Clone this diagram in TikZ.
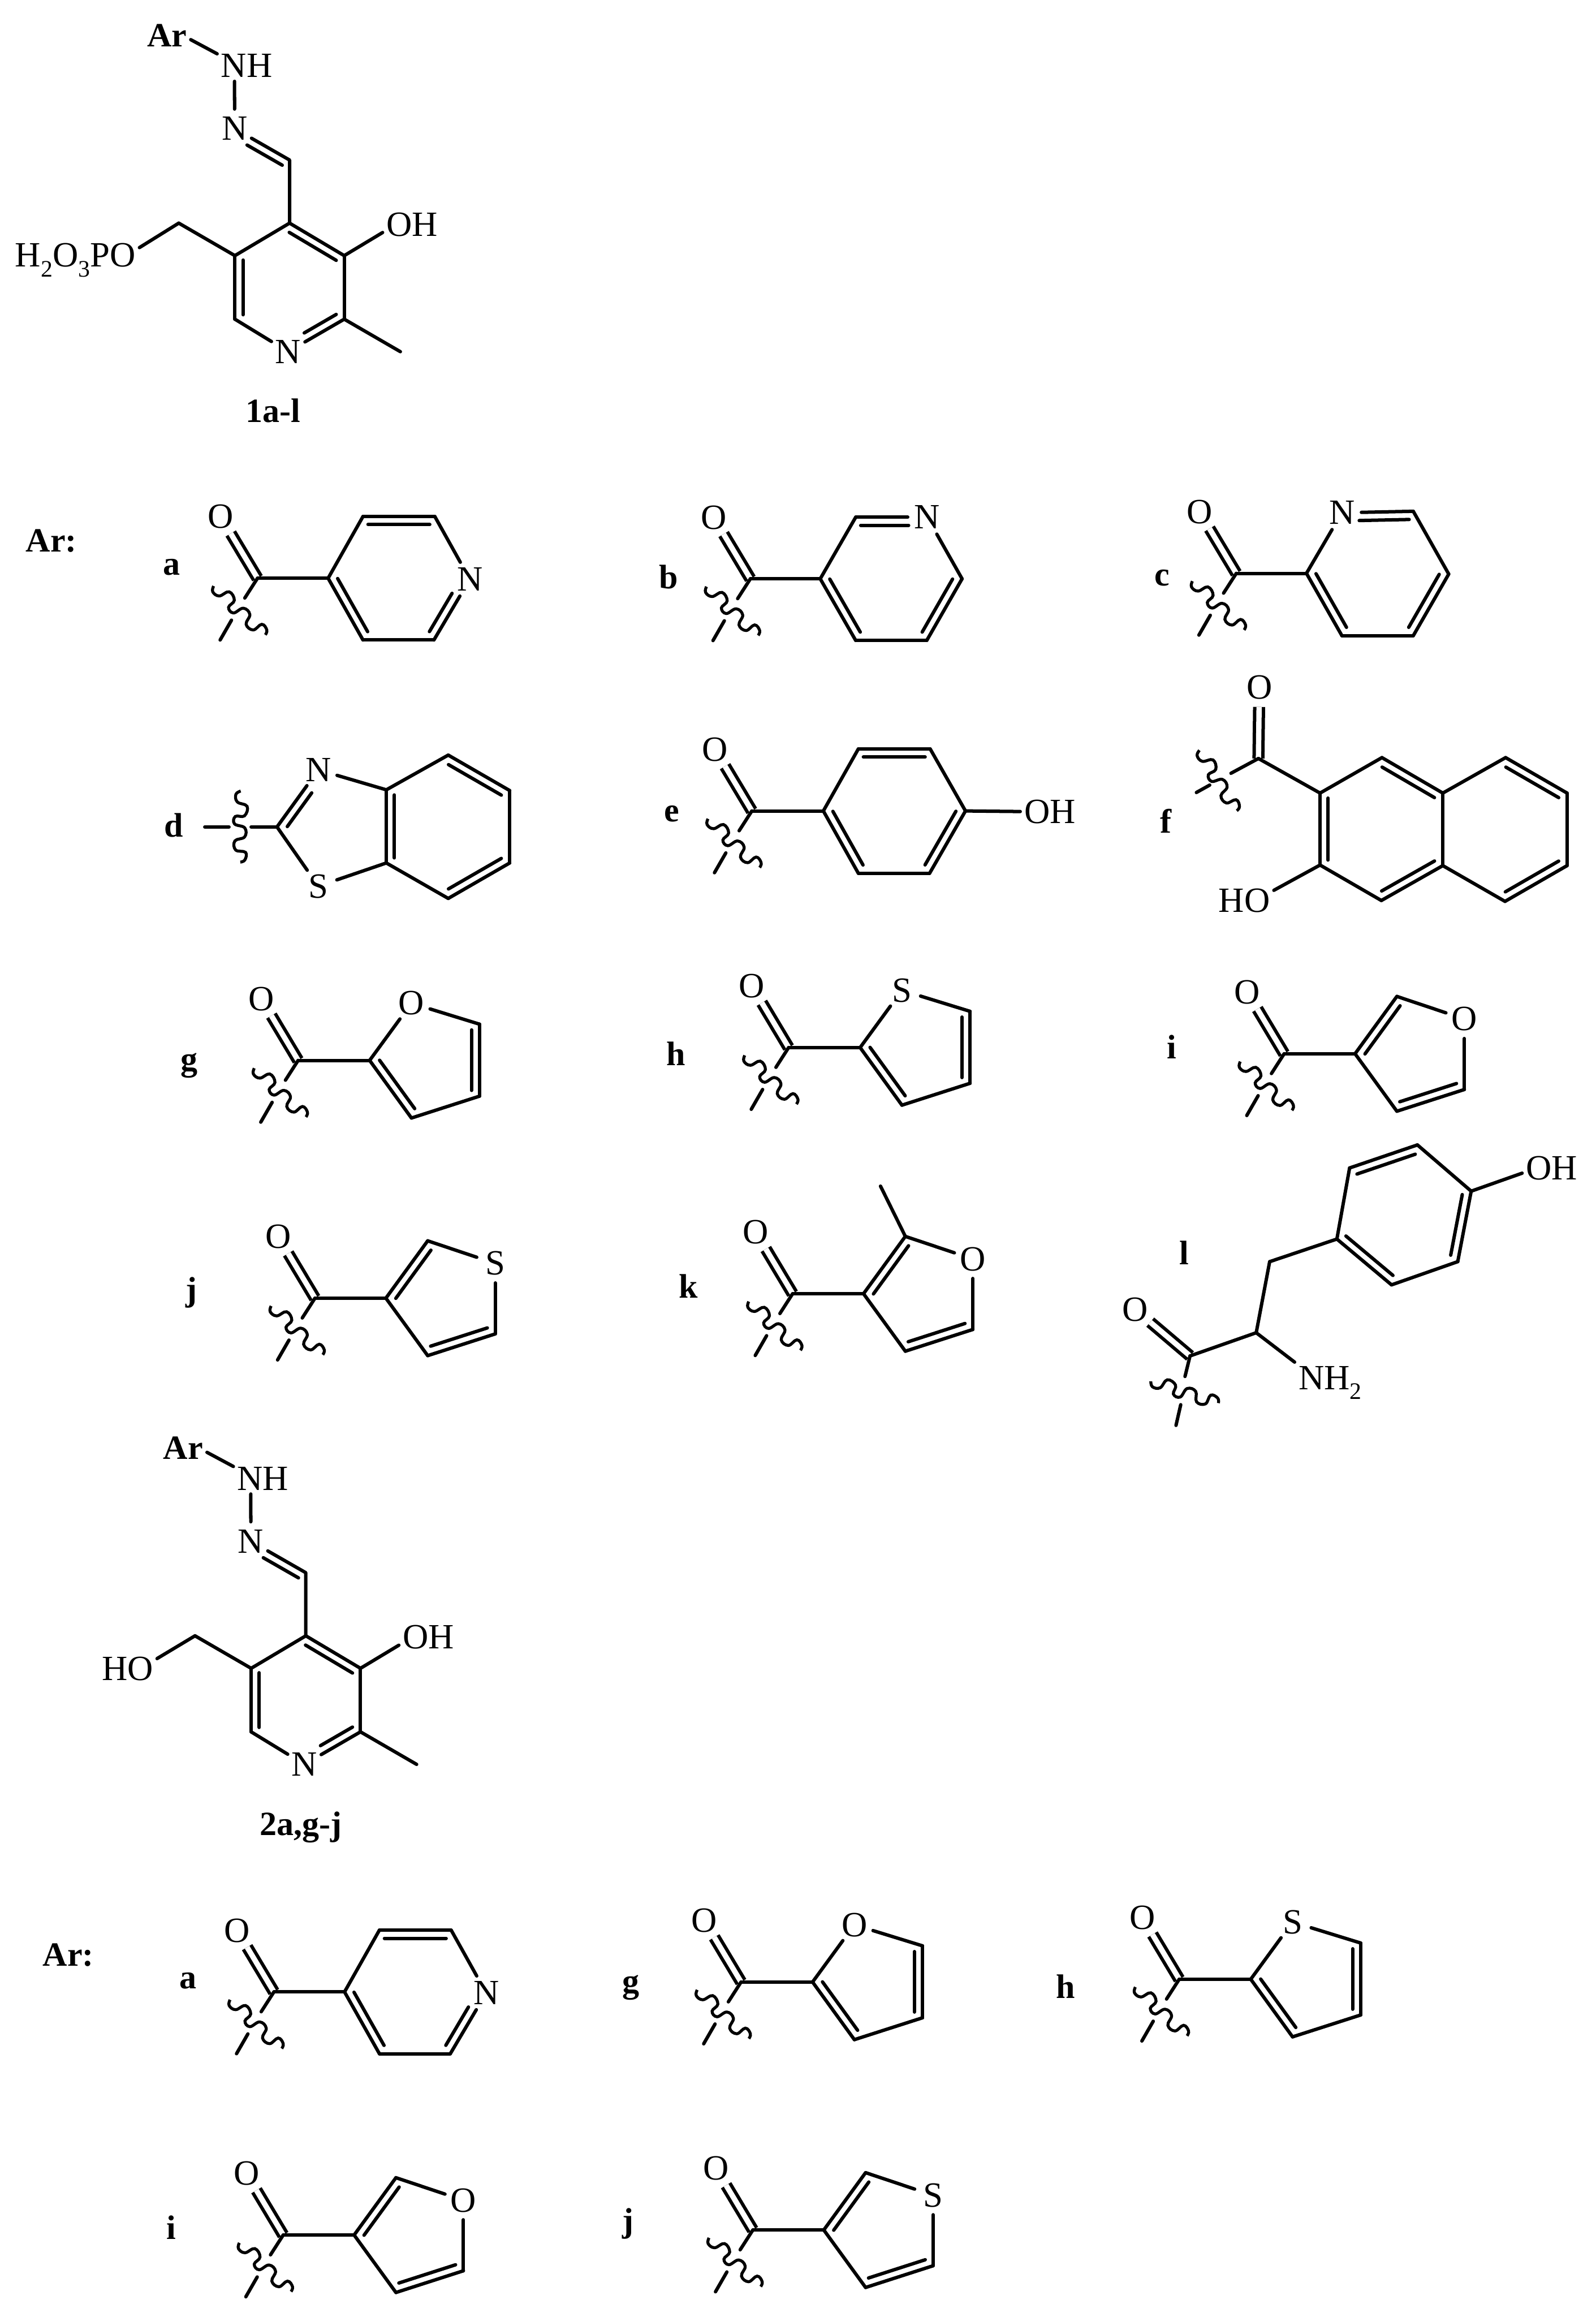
\documentclass[tikz,border=0pt]{standalone}
\usepackage{fontspec}
\setmainfont{Liberation Serif}
\usetikzlibrary{calc}
\newcommand{\atomfont}{\fontsize{24}{26}\selectfont}
\newcommand{\labfont}{\fontsize{23}{25}\selectfont\bfseries}
\newcommand{\subnum}[1]{\raisebox{-.28em}{\fontsize{16}{16}\selectfont #1}}
% second line of a double bond, on the right going from #1 to #2
\newcommand{\dblbond}[4]{\draw[bond] ($(#1)!#3!(#2)!-5.5pt!90:(#2)$) -- ($(#2)!#4!(#1)!5.5pt!90:(#1)$);}
\tikzset{
	bond/.style={line width=2.3pt, line cap=round, line join=round},
	cobond/.style={line width=2.3pt, double, double distance=3.6pt, line cap=butt},
	wave/.style={line width=2pt, line cap=butt},
	atom/.style={circle, inner sep=0pt, minimum size=26pt, font=\atomfont},
	grp/.style={inner sep=2.5pt, font=\atomfont},
	lab/.style={inner sep=0pt, font=\labfont},
	pics/wavy/.style={code={
		\draw[wave] plot[smooth, tension=.7] coordinates {(-17.8,-16.5) (-18.4,-12.6) (-14,-9.8) (-7.3,-12.6) (-3.8,-6.9) (-7.7,-2.1) (-4.4,1.7) (2.3,-1.5) (6.7,2.7) (4.2,9.4) (9,13.2) (14.8,9.4) (18.2,13.2) (17.2,16.5)};
	}},
	pics/acyl/.style={code={
		\coordinate (-c) at (0,0);
		\node[atom] (-o) at (-24.9,-41.6) {O};
		\coordinate (-p) at (-8.6,13.4);
		\coordinate (-q) at (-17.6,28.4);
		\coordinate (-r) at (-25.3,41.8);
		\draw[cobond] (-c) -- (-o);
		\draw[bond] (-c) -- (-p) (-q) -- (-r);
		\pic at (-11.9,21.8) {wavy};
	}},
	pics/pyrfour/.style={code={
		\pic at (0,0) {acyl};
		\coordinate (-cc) at (0,0);
		\coordinate (-a) at (47.8,0);
		\coordinate (-b) at (71.4,-41.8);
		\coordinate (-d) at (120,-41.8);
		\node[atom] (-n) at (143.7,.7) {N};
		\coordinate (-e) at (119.4,41.8);
		\coordinate (-f) at (71.4,41.8);
		\foreach \u/\v in {cc/a,a/b,b/d,d/n,n/e,e/f,f/a}
			\draw[bond] (-\u) -- (-\v);
		\dblbond{-b}{-d}{.07}{.07}
		\dblbond{-n}{-e}{.3}{.07}
		\dblbond{-f}{-a}{.07}{.07}
	}},
	pics/fivetwo/.style={code={
		\pic at (0,0) {acyl};
		\coordinate (-cc) at (0,0);
		\coordinate (-a) at (48.4,0);
		\node[atom] (-x) at (76.7,-38.7) {#1};
		\coordinate (-b) at (122.8,-24.5);
		\coordinate (-d) at (122.8,24.2);
		\coordinate (-e) at (76.7,39);
		\foreach \u/\v in {cc/a,a/x,x/b,b/d,d/e,e/a}
			\draw[bond] (-\u) -- (-\v);
		\dblbond{-b}{-d}{.08}{.08}
		\dblbond{-e}{-a}{.08}{.08}
	}},
	pics/fivethree/.style={code={
		\pic at (0,0) {acyl};
		\coordinate (-cc) at (0,0);
		\coordinate (-a) at (48,0);
		\coordinate (-b) at (76.3,-38.8);
		\node[atom] (-x) at (122,-23.5) {#1};
		\coordinate (-d) at (122,24.2);
		\coordinate (-e) at (76.3,38.9);
		\foreach \u/\v in {cc/a,a/b,b/x,x/d,d/e,e/a}
			\draw[bond] (-\u) -- (-\v);
		\dblbond{-a}{-b}{.08}{.08}
		\dblbond{-d}{-e}{.08}{.08}
	}},
	pics/hydrazone/.style={code={
		\node[grp, font=\labfont] (-ar) at (113,24) {Ar};
		\node[grp] (-nh) at (167,44.5) {NH};
		\node[atom] (-nn) at (158.8,87) {N};
		\coordinate (-ch) at (196,108.3);
		\coordinate (-a) at (196,151);
		\coordinate (-b) at (233,173);
		\coordinate (-d) at (233,216);
		\node[atom] (-n) at (195,238) {N};
		\coordinate (-e) at (159,216);
		\coordinate (-f) at (159,173);
		\coordinate (-me) at (271,238);
		\coordinate (-ct) at (121,151);
		\node[grp] (-oh) at (279,152) {OH};
		\draw[bond] (-ar.-10) -- (-nh.158);
		\draw[bond] (-nh.232) -- (-nn);
		\draw[bond] (-nn) -- (-ch) -- (-a);
		\foreach \u/\v in {a/b,b/d,d/n,n/e,e/f,f/a,d/me,f/ct}
			\draw[bond] (-\u) -- (-\v);
		\draw[bond] (-b) -- (-oh.195);
		\dblbond{-nn}{-ch}{.3}{.06}
		\dblbond{-a}{-b}{.07}{.07}
		\dblbond{-d}{-n}{.07}{.36}
		\dblbond{-e}{-f}{.07}{.07}
	}}
}
\begin{document}
\begin{tikzpicture}[x=1pt, y=-1pt]
\useasboundingbox (0,0) rectangle (1080,1568);
% the two parent structures
\pic (top) at (0,0) {hydrazone};
\node[grp, anchor=base] (phos) at (51,180.5) {H\subnum{2}O\subnum{3}PO};
\draw[bond] (top-ct) -- (phos.11);
\node[lab] (nameone) at (185,278) {1a-l};
\pic (low) at (11,956) {hydrazone};
\node[grp] (hydroxy) at (86.3,1129.3) {HO};
\draw[bond] (low-ct) -- (hydroxy.19);
\node[lab] (nametwo) at (203.5,1236.6) {2a,g-j};
\node[lab] (arone) at (34.8,366) {Ar:};
\node[lab] (artwo) at (46.2,1323) {Ar:};
% letters of the groups
\foreach \n/\t/\x/\y in {a/a/116/384, b/b/452.7/390.3, c/c/786.7/391, d/d/117.7/558.5, e/e/454.6/550.7, f/f/789/555.4, g/g/128.2/721, h/h/457.6/713, i/i/793/708.6, j/j/129.6/874.7, k/k/465.9/870.3, l/l/801.4/847.9, aa/a/127.4/1340.4, gg/g/427.2/1345, hh/h/721.1/1344.2, ii/i/116/1507.4, jj/j/425.3/1504.9}
	\node[lab] (lab\n) at (\x,\y) {\t};
% a, g-k and their copies below
\pic (a) at (174.3,391.3) {pyrfour};
\pic (g) at (201.8,717.6) {fivetwo=O};
\pic (h) at (533.8,708.9) {fivetwo=S};
\pic (i) at (869.2,713.1) {fivethree=O};
\pic (j) at (213.2,878.5) {fivethree=S};
\pic (k) at (536.5,875.5) {fivethree=O};
\coordinate (kme) at (596,802.7);
\draw[bond] (k-b) -- (kme);
\pic (aa) at (185.4,1348) {pyrfour};
\pic (gg) at (501.6,1341.3) {fivetwo=O};
\pic (hh) at (798.2,1339.4) {fivetwo=S};
\pic (ii) at (191.7,1512.5) {fivethree=O};
\pic (jj) at (509.6,1509.1) {fivethree=S};
% b
\pic (b) at (507.9,391.7) {acyl};
\coordinate (b1) at (555.2,391.7);
\coordinate (b2) at (579.2,350);
\node[atom] (b3) at (627.6,350) {N};
\coordinate (b4) at (651.2,391.7);
\coordinate (b5) at (627.3,433.4);
\coordinate (b6) at (579.2,433.4);
\foreach \u/\v in {b-c/b1,b1/b2,b2/b3,b3/b4,b4/b5,b5/b6,b6/b1}
	\draw[bond] (\u) -- (\v);
\dblbond{b2}{b3}{.07}{.26}
\dblbond{b4}{b5}{.07}{.07}
\dblbond{b6}{b1}{.07}{.07}
% c
\pic (c) at (836.8,388) {acyl};
\coordinate (c1) at (884.3,388);
\node[atom] (c2) at (908.3,347) {N};
\coordinate (c3) at (956.6,346);
\coordinate (c4) at (980.6,388.5);
\coordinate (c5) at (956.6,430.2);
\coordinate (c6) at (908.3,430.2);
\foreach \u/\v in {c-c/c1,c1/c2,c2/c3,c3/c4,c4/c5,c5/c6,c6/c1}
	\draw[bond] (\u) -- (\v);
\dblbond{c2}{c3}{.24}{.06}
\dblbond{c4}{c5}{.07}{.07}
\dblbond{c6}{c1}{.07}{.07}
% d
\coordinate (dtail) at (138.6,559.6);
\coordinate (dgap) at (155,559.6);
\coordinate (dcut) at (170,559.6);
\pic[rotate=-47] at (163,559.6) {wavy};
\coordinate (d1) at (187.5,559.6);
\node[atom] (d2) at (215.5,521) {N};
\coordinate (d3) at (261.5,534.5);
\coordinate (d4) at (303.4,511);
\coordinate (d5) at (345,535);
\coordinate (d6) at (345,584);
\coordinate (d7) at (303.4,608);
\coordinate (d8) at (261.5,584);
\node[atom] (d9) at (215.5,599.7) {S};
\draw[bond] (dtail) -- (dgap);
\foreach \u/\v in {dcut/d1,d1/d2,d2/d3,d3/d4,d4/d5,d5/d6,d6/d7,d7/d8,d8/d3,d8/d9,d9/d1}
	\draw[bond] (\u) -- (\v);
\dblbond{d1}{d2}{.09}{.32}
\dblbond{d8}{d3}{.07}{.07}
\dblbond{d4}{d5}{.07}{.07}
\dblbond{d6}{d7}{.07}{.07}
% e
\pic (e) at (508.9,548.8) {acyl};
\coordinate (e1) at (557.3,548.8);
\coordinate (e2) at (581,506.8);
\coordinate (e3) at (629.6,506.8);
\coordinate (e4) at (653.5,548.8);
\coordinate (e5) at (629.2,591);
\coordinate (e6) at (581,591);
\node[grp] (eoh) at (710.6,549.4) {OH};
\foreach \u/\v in {e-c/e1,e1/e2,e2/e3,e3/e4,e4/e5,e5/e6,e6/e1,e4/eoh}
	\draw[bond] (\u) -- (\v);
\dblbond{e2}{e3}{.07}{.07}
\dblbond{e4}{e5}{.07}{.07}
\dblbond{e6}{e1}{.07}{.07}
% f
\coordinate (fc) at (851.8,513.3);
\node[atom] (fo) at (852.4,465.2) {O};
\coordinate (fp) at (833.2,523.3);
\coordinate (fq) at (818.8,531.3);
\coordinate (fr) at (809.8,536.3);
\pic[rotate=-15] at (824.8,528.3) {wavy};
\coordinate (f1) at (893.5,536.7);
\coordinate (f2) at (935.4,512.7);
\coordinate (f3) at (976.6,536.7);
\coordinate (f4) at (1019.1,512.7);
\coordinate (f5) at (1060.7,536.7);
\coordinate (f6) at (1060.7,585.8);
\coordinate (f7) at (1018.7,610);
\coordinate (f8) at (976.6,585.8);
\coordinate (f9) at (935,609.4);
\coordinate (f10) at (893.5,585.4);
\node[grp] (fho) at (842.2,609.4) {HO};
\draw[cobond] (fc) -- (fo);
\foreach \u/\v in {fc/fp,fq/fr,fc/f1,f1/f2,f2/f3,f3/f4,f4/f5,f5/f6,f6/f7,f7/f8,f8/f3,f8/f9,f9/f10,f10/f1}
	\draw[bond] (\u) -- (\v);
\draw[bond] (f10) -- (fho.19);
\dblbond{f2}{f3}{.07}{.07}
\dblbond{f4}{f5}{.07}{.07}
\dblbond{f6}{f7}{.07}{.07}
\dblbond{f8}{f9}{.07}{.07}
\dblbond{f10}{f1}{.07}{.07}
% l
\coordinate (lc) at (805.5,917.6);
\node[atom] (lo) at (768.5,886.2) {O};
\coordinate (lp) at (802.1,931.5);
\coordinate (lq) at (799.2,950.6);
\coordinate (lr) at (796,964.6);
\pic[rotate=25.4] at (802.1,942) {wavy};
\coordinate (lca) at (850.3,901.9);
\coordinate (lch) at (859.4,853.8);
\coordinate (l1) at (904.9,838.5);
\coordinate (l2) at (913.5,790.4);
\coordinate (l3) at (959.4,774.8);
\coordinate (l4) at (995.8,806.1);
\coordinate (l5) at (986.7,853.8);
\coordinate (l6) at (941.9,869.5);
\node[grp] (loh) at (1050.3,790.4) {OH};
\node[grp, anchor=base] (lnh) at (900.3,940.2) {NH\subnum{2}};
\draw[cobond] (lc) -- (lo);
\foreach \u/\v in {lc/lp,lq/lr,lc/lca,lca/lch,lch/l1,l1/l2,l2/l3,l3/l4,l4/l5,l5/l6,l6/l1}
	\draw[bond] (\u) -- (\v);
\draw[bond] (l4) -- (loh.190);
\draw[bond] (lca) -- (lnh.north west);
\dblbond{l2}{l3}{.07}{.07}
\dblbond{l4}{l5}{.07}{.07}
\dblbond{l6}{l1}{.07}{.07}
\end{tikzpicture}
\end{document}
